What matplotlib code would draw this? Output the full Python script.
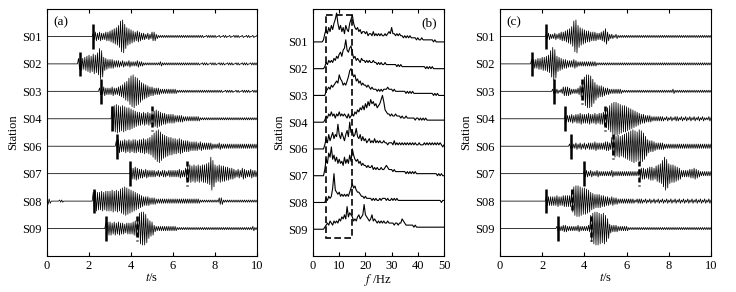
import numpy as np
import matplotlib
matplotlib.use('Agg')
import matplotlib.pyplot as plt
from matplotlib.patches import Rectangle

plt.rcParams['font.family'] = 'serif'
plt.rcParams['font.serif'] = ['Liberation Serif', 'DejaVu Serif']
plt.rcParams['mathtext.fontset'] = 'stix'
plt.rcParams['font.size'] = 9

stations = ['S01', 'S02', 'S03', 'S04', 'S06', 'S07', 'S08', 'S09']

# envelope, one hex digit per 0.1 s (0..10 s)
wave_a = [
    "0000000000 0000000000 0034343344 5678aefb87 6545433232 4421111111 1111111111 1111101111 1010110101 1101011010 1",
    "0000000000 0000056567 8798aec654 4433323223 2223221111 1111211111 1111111111 1110111011 1011101110 1101110111 1",
    "0000000000 0000000000 0000033433 343345689c efdca87654 4333222222 2211111111 1111111111 1111011110 1101111011 1",
    "0000000000 0000000000 0000000000 0bcdcbcbaa 9876656565 6787655444 4333322222 2221111111 1111111111 1111111111 1",
    "0000000000 0000000000 0000000000 0005655656 5665667678 acefdba988 7767655544 4434333332 2232222222 2222222222 2",
    "0000000000 0000000000 0000000000 0000000000 5565443433 3323233233 3334335787 8787889afc 8787766554 3435433433 2",
    "3200001100 0000000000 0089889899 9a9a9bcdcb a987654443 3322222222 2222222222 2221111111 1133111111 1111111111 1",
    "0000000000 0000000000 0000000056 6565655455 5678effd97 6322222222 2211111111 1111111111 1111111111 1111111121 1",
]
wave_c = [
    "0000000000 0000000000 0023223234 45679efa87 6554443345 7422121111 1111111111 1111111111 1111111111 1111111111 1",
    "0000000000 0000044455 6678cfd765 4433343222 2222221111 1111111111 1111111111 1111111111 1111111111 1111111111 1",
    "0000000000 0000000000 0000022212 4443222358 dffeb86554 3322222211 1111111111 1111111111 1121111111 1111111111 1",
    "0000000000 0000000000 0000000000 0333434454 4454454556 8aceffedcc ba98765443 3322222212 1212212121 2121212112 1",
    "0000000000 0000000000 0000000000 0002223232 3233343333 4438a9a9ab cdefedfec9 6554333322 2222222222 2222222222 2",
    "0000000000 0000000000 0000000000 0000000000 3323223222 2223222222 2222224554 5665789cfd 9887653333 4454322222 2",
    "0000000000 0000000000 0044444544 5555adeedc cba8766655 4434332222 2222122212 1212121212 1212121212 1212121212 1",
    "0000000000 0000000000 0000000222 3322222322 223ceffede c943332222 2111111111 1111111111 1111111111 1111111111 1",
]
# amplitude spectra, one hex digit per 0.5 Hz (0..50 Hz)
spec_b = [
    "0000000014 6475869be9 685748659b d976756455 4534435343 4343343454 7443434332 3232322221 2112111111 1101000000 0",
    "0000000001 3243435465 7869ae98ab 8564543544 3434334332 3232232222 2222121211 1111111111 1111110101 0100000000 0",
    "0000000000 2343545676 a8756579cd b9a7867565 5454343332 3232333433 3232222222 2121212111 1111111111 1101010000 0",
    "0000000001 3243534243 5343432423 4354657686 97a8b9a897 89bda65443 4334333232 2322222212 2121212111 1111111111 1",
    "0000000002 537468576c 75864796d8 967a657464 5345343534 3433433233 3242323232 3232323232 2322232323 2323232321 2",
    "0000000003 86b9e8a796 86759686a7 da87867565 5454453434 3343345433 3232222222 2121212121 1111111111 1111101010 0",
    "0000000000 213237e654 5343434357 9786554332 3222212121 1212221211 2121211111 1111111111 1111111111 1111111101 1",
    "0000000001 2324324343 546575b687 645467567c 7654574543 4343433433 3323323354 3222222121 1111111111 1111111111 1",
]

p_pick_a = [2.2, 1.55, 2.55, 3.1, 3.35, 3.97, 2.25, 2.8]
s_pick_a = [None, None, None, 5.0, None, 6.65, None, 4.3]
p_pick_c = [2.2, 1.5, 2.55, 3.1, 3.35, 3.97, 2.2, 2.75]
s_pick_c = [None, None, 3.9, 5.0, 5.35, 6.6, 3.4, 4.3]

band_lo, band_hi = 5, 15


def decode(s):
    return np.array([int(c, 16) for c in s.replace(' ', '')], dtype=float)


def style_axes(ax, xlim, xticks, xlabel, ylim):
    ax.set_xlim(*xlim)
    ax.set_ylim(*ylim)
    ax.set_xticks(xticks)
    ax.set_yticks(range(1, len(stations) + 1))
    ax.set_yticklabels(stations)
    ax.tick_params(axis='x', direction='in', top=True, length=3, width=0.8, pad=3)
    ax.tick_params(axis='y', length=0, pad=4)
    ax.set_xlabel(xlabel, labelpad=0)
    ax.set_ylabel('Station', labelpad=2)
    for sp in ax.spines.values():
        sp.set_linewidth(0.8)


def draw_waves(ax, waves, p_picks, s_picks):
    for k, w in enumerate(waves):
        y0 = k + 1
        # each 0.1 s envelope reading drawn as one full swing up and down
        amp = np.repeat(decode(w) / 25.0, 2)
        t = np.arange(len(amp)) * 0.05
        sign = np.where(np.arange(len(amp)) % 2 == 0, 1.0, -1.0)
        ax.plot(t, y0 - sign * amp, color='k', lw=0.55)
        ax.vlines(p_picks[k], y0 - 0.45, y0 + 0.45, color='k', lw=1.8)
        if s_picks[k] is not None:
            ax.vlines(s_picks[k], y0 - 0.45, y0 + 0.45, color='k', lw=1.8,
                      linestyles=(0, (2, 1.2)))


fig = plt.figure(figsize=(7.36, 2.92), dpi=100)
ax_a = fig.add_axes([0.0639, 0.1233, 0.2853, 0.8459])
ax_b = fig.add_axes([0.4253, 0.1233, 0.1780, 0.8459])
ax_c = fig.add_axes([0.6793, 0.1233, 0.2867, 0.8459])

# (a) raw records
draw_waves(ax_a, wave_a, p_pick_a, s_pick_a)
style_axes(ax_a, (0, 10), [0, 2, 4, 6, 8, 10], r'$t$/s', (9, 0))
ax_a.text(0.68, 0.5, '(a)', ha='center', va='center', fontsize=9.5)

# (b) spectra
for k, s in enumerate(spec_b):
    y0 = k + 1
    amp = decode(s) / 13.0
    f = np.arange(len(amp)) * 0.5
    ax_b.plot(f, y0 - amp, color='k', lw=0.8)
ax_b.add_patch(Rectangle((band_lo, -0.02), band_hi - band_lo, 8.36, fill=False,
                         ec='k', lw=1.2, ls=(0, (4, 2))))
style_axes(ax_b, (0, 50), [0, 10, 20, 30, 40, 50], r'$f$ /Hz', (9, -0.23))
ax_b.text(44.3, 0.29, '(b)', ha='center', va='center', fontsize=9.5)

# (c) filtered records
draw_waves(ax_c, wave_c, p_pick_c, s_pick_c)
style_axes(ax_c, (0, 10), [0, 2, 4, 6, 8, 10], r'$t$/s', (9, 0))
ax_c.text(0.65, 0.5, '(c)', ha='center', va='center', fontsize=9.5)

fig.savefig('out.png', dpi=100)
